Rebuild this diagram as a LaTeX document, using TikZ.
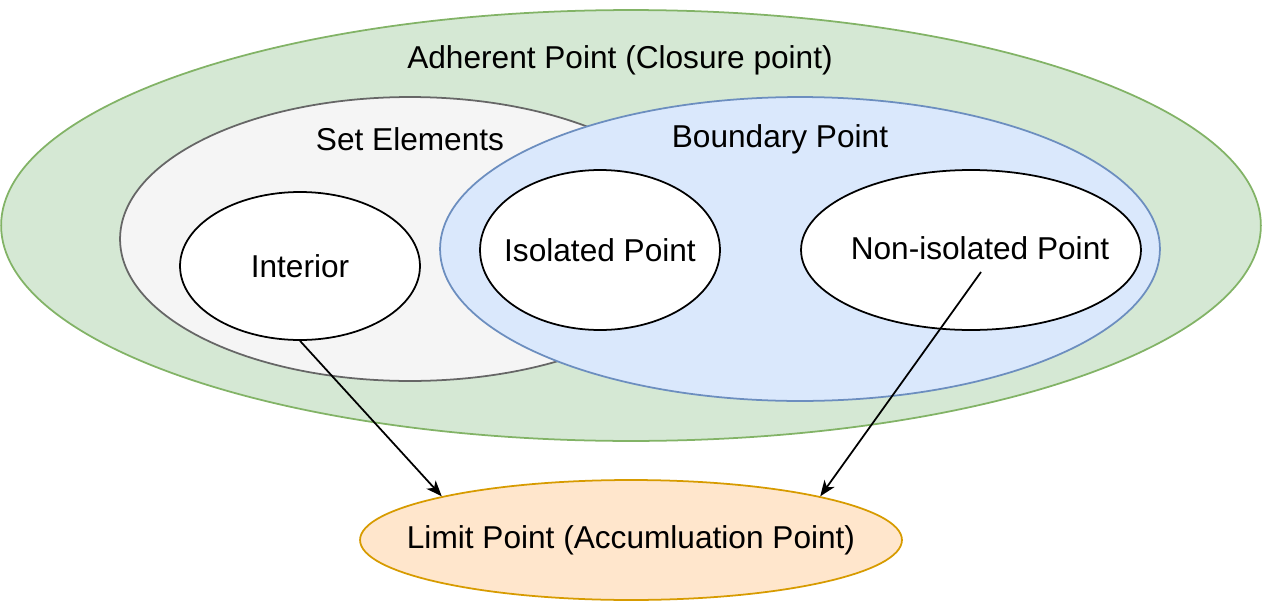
\documentclass[tikz,border=0pt]{standalone}
\usepackage[usenames,dvipsnames]{xcolor}
\usepackage{fontspec}
\setmainfont{Liberation Sans}
\usetikzlibrary{arrows,arrows.meta,shapes.geometric}

\definecolor{AdhFill}{HTML}{D5E8D4}
\definecolor{AdhLine}{HTML}{82B366}
\definecolor{SetFill}{HTML}{F5F5F5}
\definecolor{SetLine}{HTML}{666666}
\definecolor{BndFill}{HTML}{DAE8FC}
\definecolor{BndLine}{HTML}{6C8EBF}
\definecolor{LimFill}{HTML}{FFE6CC}
\definecolor{LimLine}{HTML}{D79B00}

\begin{document}
\begin{tikzpicture}[x=0.02cm, y=-0.02cm]
    \tikzstyle{RegionStyle}=[shape = ellipse, inner sep = 0pt, line width = 1pt, draw]
    \tikzstyle{InnerStyle}=[RegionStyle, fill = white, draw = black]
    \tikzstyle{TitleStyle}=[font = \fontsize{18}{21}\selectfont, text = black]
    \tikzstyle{EdgeStyle}=[-{Stealth[length = 9pt, width = 7pt, inset = 2.5pt]}, line width = 1pt]
   \useasboundingbox (0,0) rectangle (1262,602);
   % outer regions
   \node[RegionStyle, fill = AdhFill, draw = AdhLine, minimum width = 25.2cm, minimum height = 8.62cm] (adherent) at (631,225.5) {};
   \node[RegionStyle, fill = SetFill, draw = SetLine, minimum width = 11.6cm, minimum height = 5.68cm] (setel) at (410,239) {};
   \node[RegionStyle, fill = BndFill, draw = BndLine, minimum width = 14.4cm, minimum height = 6.08cm] (boundary) at (800,249) {};
   \node[TitleStyle] (adherentT) at (620,60) {Adherent Point (Closure point)};
   \node[TitleStyle] (setelT) at (410,139) {Set Elements};
   \node[TitleStyle] (boundaryT) at (780,139) {Boundary Point};
   % inner regions
   \node[InnerStyle, minimum width = 4.8cm, minimum height = 2.96cm, label = {[TitleStyle]center:Interior}] (interior) at (300,266) {};
   \node[InnerStyle, minimum width = 4.8cm, minimum height = 3.2cm, label = {[TitleStyle]center:Isolated Point}] (isolated) at (600,250) {};
   \node[InnerStyle, minimum width = 6.8cm, minimum height = 3.2cm] (noniso) at (971,250) {};
   \node[TitleStyle] (nonisoT) at (980,248) {Non-isolated Point};
   \node[RegionStyle, fill = LimFill, draw = LimLine, minimum width = 10.84cm, minimum height = 2.4cm, label = {[TitleStyle]center:Limit Point (Accumluation Point)}] (limit) at (631,540) {};
   \coordinate (nonisoTail) at (981,272);
   % arrows
   \draw[EdgeStyle] (interior.south) -- (limit.167);
   \draw[EdgeStyle] (nonisoTail) -- (limit.13);
  \end{tikzpicture}
\end{document}
